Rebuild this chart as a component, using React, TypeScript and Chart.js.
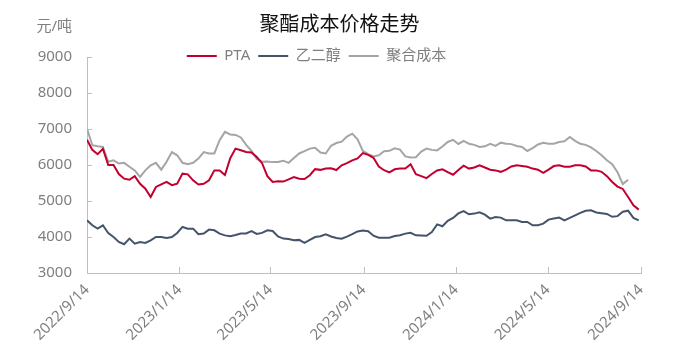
import { useEffect, useRef } from 'react';
import { Chart, registerables } from 'chart.js';

Chart.register(...registerables);

// ---- data (weekly samples from 2022/9/14, x = days since start) ----
const STEP_DAYS = 7;
const tickDays = [0, 122, 242, 365, 487, 608, 731];
const tickLabels = ['2022/9/14', '2023/1/14', '2023/5/14', '2023/9/14', '2024/1/14', '2024/5/14', '2024/9/14'];
const seriesNames = ['PTA', '乙二醇', '聚合成本'];
const seriesColors = ['#C2002F', '#44546A', '#A5A5A5'];
const unitLabel = '元/吨';
const titleText = '聚酯成本价格走势';

const pta = [
  6700, 6420, 6300, 6450, 6000, 6000, 5750, 5620, 5590, 5690,
  5480, 5340, 5110, 5390, 5460, 5530, 5440, 5480, 5760, 5740,
  5575, 5460, 5480, 5575, 5850, 5850, 5720, 6190, 6455, 6410,
  6360, 6350, 6220, 6050, 5690, 5530, 5550, 5540, 5600, 5665,
  5620, 5610, 5715, 5885, 5865, 5905, 5910, 5860, 5990, 6050,
  6130, 6185, 6330, 6280, 6200, 5960, 5855, 5795, 5880, 5900,
  5900, 6020, 5745, 5690, 5635, 5750, 5850, 5880, 5800, 5730,
  5860, 5980, 5900, 5930, 5990, 5930, 5870, 5850, 5810, 5870,
  5960, 5990, 5970, 5950, 5900, 5870, 5780, 5870, 5970, 5990,
  5950, 5950, 5990, 5990, 5960, 5850, 5850, 5810, 5690, 5530,
  5400, 5335, 5110, 4880, 4760,
];

const meg = [
  4464, 4325, 4232, 4325, 4112, 4001, 3862, 3800, 3955, 3816,
  3862, 3834, 3909, 4001, 4001, 3973, 4001, 4112, 4279, 4232,
  4232, 4075, 4094, 4205, 4186, 4094, 4045, 4020, 4055, 4094,
  4100, 4165, 4085, 4115, 4186, 4165, 4015, 3955, 3945, 3910,
  3920, 3840, 3920, 4000, 4020, 4075, 4015, 3970, 3955, 4010,
  4080, 4155, 4180, 4160, 4035, 3980, 3980, 3980, 4025, 4047,
  4094, 4115, 4047, 4040, 4035, 4140, 4350, 4298, 4450, 4530,
  4655, 4720, 4631, 4650, 4686, 4622, 4511, 4557, 4538, 4464,
  4464, 4464, 4418, 4418, 4325, 4325, 4372, 4483, 4511, 4538,
  4464, 4529, 4600, 4670, 4730, 4740, 4680, 4660, 4640, 4560,
  4580, 4700, 4730, 4530, 4460,
];

const cost: (number | null)[] = [
  7010, 6550, 6520, 6500, 6090, 6130, 6040, 6060, 5950, 5850,
  5670, 5850, 5990, 6060, 5870, 6090, 6360, 6270, 6060, 6020,
  6060, 6180, 6360, 6320, 6320, 6690, 6920, 6850, 6835, 6765,
  6560, 6395, 6165, 6090, 6100, 6080, 6085, 6120, 6060, 6195,
  6320, 6385, 6455, 6480, 6345, 6320, 6535, 6610, 6650, 6790,
  6870, 6715, 6390, 6300, 6240, 6270, 6385, 6395, 6465, 6430,
  6240, 6210, 6215, 6375, 6455, 6420, 6405, 6515, 6640, 6700,
  6585, 6670, 6590, 6560, 6500, 6520, 6590, 6530, 6620, 6590,
  6580, 6530, 6500, 6390, 6470, 6570, 6620, 6590, 6590, 6640,
  6660, 6780, 6670, 6590, 6560, 6490, 6390, 6270, 6130, 6020,
  5800, 5470, 5590, null, null,
];

const FONT = '"Noto Sans", "Noto Sans CJK SC", sans-serif';
const GRAY_TEXT = '#7f7f7f';
const AXIS_COLOR = '#bfbfbf';

const toPoints = (vals: (number | null)[]) =>
  vals.map((v, i) => ({ x: i * STEP_DAYS, y: v }));

const decorPlugin = {
  id: 'decor',
  afterLayout(chart: any) {
    const lg = chart.legend;
    if (lg) {
      lg.left -= 4;
      lg.right -= 4;
      lg.bottom += 20;
      lg.height += 20;
    }
    const tb = chart.titleBlock;
    if (tb) {
      tb.left += 19;
      tb.right += 19;
    }
  },
  afterDraw(chart: any) {
    const { ctx, chartArea, scales } = chart;
    const x = scales.x;
    const y = scales.y;
    ctx.save();
    ctx.strokeStyle = AXIS_COLOR;
    ctx.lineWidth = 1;
    ctx.beginPath();
    y.ticks.forEach((t: any) => {
      const py = Math.round(y.getPixelForValue(t.value)) + 0.5;
      ctx.moveTo(chartArea.left, py);
      ctx.lineTo(chartArea.left + 5, py);
    });
    x.ticks.forEach((t: any) => {
      const px = Math.round(x.getPixelForValue(t.value)) + 0.5;
      ctx.moveTo(px, chartArea.bottom);
      ctx.lineTo(px, chartArea.bottom - 6);
    });
    ctx.stroke();
    ctx.fillStyle = GRAY_TEXT;
    ctx.font = `15px ${FONT}`;
    ctx.textAlign = 'right';
    ctx.textBaseline = 'middle';
    ctx.fillText(unitLabel, chartArea.left - 15, 27);
    ctx.restore();
  },
};

export default function App() {
  const ref = useRef<HTMLCanvasElement | null>(null);

  useEffect(() => {
    if (!ref.current) return;
    const series = [pta, meg, cost];
    const chart = new Chart(ref.current, {
      type: 'line',
      data: {
        datasets: series.map((vals, i) => ({
          label: seriesNames[i],
          data: toPoints(vals),
          borderColor: seriesColors[i],
          backgroundColor: seriesColors[i],
          borderWidth: 2,
          pointRadius: 0,
          pointHoverRadius: 0,
          fill: false,
          tension: 0,
          spanGaps: false,
        })),
      },
      options: {
        responsive: false,
        animation: false,
        devicePixelRatio: 1,
        layout: { padding: { left: 0, right: 34, top: 0, bottom: 0 } },
        plugins: {
          title: {
            display: true,
            text: titleText,
            color: '#111',
            font: { family: FONT, size: 20, weight: 'normal' },
            padding: { top: 13, bottom: 3.5 },
          },
          legend: {
            display: true,
            position: 'top',
            maxHeight: 16.5,
            labels: {
              boxWidth: 30,
              boxHeight: 2,
              padding: 8,
              color: GRAY_TEXT,
              font: { family: FONT, size: 15 },
              generateLabels: (c: any) =>
                c.data.datasets.map((ds: any, i: number) => ({
                  text: ds.label,
                  fillStyle: ds.borderColor,
                  strokeStyle: ds.borderColor,
                  lineWidth: 0,
                  hidden: false,
                  datasetIndex: i,
                  fontColor: GRAY_TEXT,
                })),
            },
          },
          tooltip: { enabled: false },
        },
        scales: {
          x: {
            type: 'linear',
            min: tickDays[0],
            max: tickDays[tickDays.length - 1],
            afterBuildTicks: (s: any) => {
              s.ticks = tickDays.map((v) => ({ value: v }));
            },
            afterFit: (s: any) => {
              s.height = 86;
            },
            grid: { display: false, drawTicks: false },
            border: { display: true, color: AXIS_COLOR, width: 1 },
            ticks: {
              autoSkip: false,
              minRotation: 45,
              maxRotation: 45,
              padding: 8,
              color: GRAY_TEXT,
              font: { family: FONT, size: 15 },
              callback: (v: any) => {
                const idx = tickDays.indexOf(Number(v));
                return idx >= 0 ? tickLabels[idx] : '';
              },
            },
          },
          y: {
            min: 3000,
            max: 9000,
            afterFit: (s: any) => {
              s.width = 87;
            },
            grid: { display: false, drawTicks: false },
            border: { display: true, color: AXIS_COLOR, width: 1 },
            ticks: {
              stepSize: 1000,
              padding: 15,
              color: GRAY_TEXT,
              font: { family: FONT, size: 15 },
              callback: (v: any) => String(v),
            },
          },
        },
      },
      plugins: [decorPlugin],
    } as any);
    return () => chart.destroy();
  }, []);

  return (
    <div style={{ position: 'fixed', left: 0, top: 0, width: 675, height: 359, background: '#fff' }}>
      <canvas ref={ref} width={675} height={359} />
    </div>
  );
}
